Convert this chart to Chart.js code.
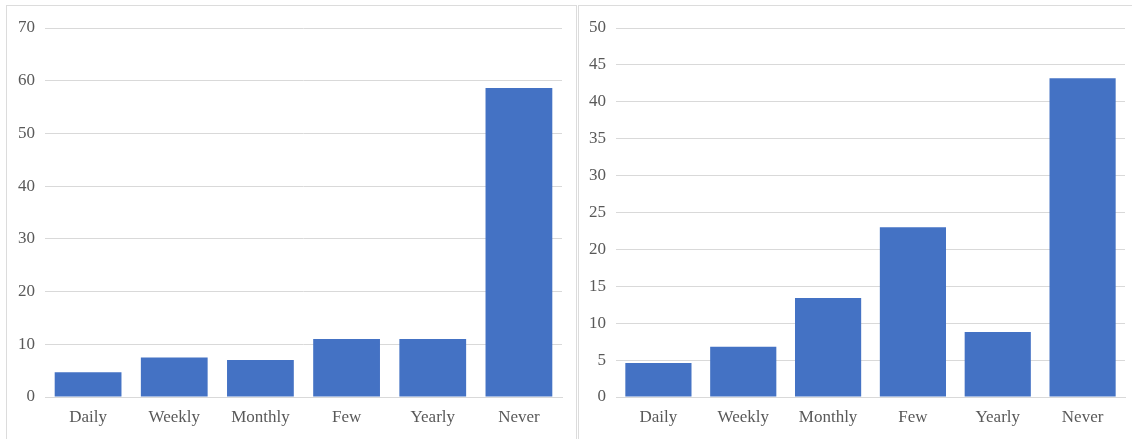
<!DOCTYPE html>
<html>
<head>
<meta charset="utf-8">
<script src="https://cdn.jsdelivr.net/npm/chart.js@4/dist/chart.umd.min.js"></script>
<style>
    body { margin: 0; background: #fff; width: 1132px; height: 439px; position: relative; overflow: hidden; }
    .panel { position: absolute; top: 5px; border: 1px solid #dcdcdc; border-bottom: none; background: #fff; }
    #left-panel { left: 6px; width: 569px; height: 434px; }
    #right-panel { left: 578px; width: 553px; height: 434px; border-right: none; }
</style>
</head>
<body>
<div class="panel" id="left-panel"><canvas id="left-chart" width="569" height="433"></canvas></div>
<div class="panel" id="right-panel"><canvas id="right-chart" width="553" height="433"></canvas></div>
<script>
const categories = ['Daily', 'Weekly', 'Monthly', 'Few', 'Yearly', 'Never'];
const leftValues = [4.7, 7.5, 7.0, 11.0, 11.0, 58.6];
const rightValues = [4.6, 6.8, 13.4, 23.0, 8.8, 43.2];

const barColor = '#4472c4';
const gridColor = '#d9d9d9';
const labelColor = '#595959';
const font = { family: '"Liberation Serif", "DejaVu Serif", serif', size: 17 };

function buildChart(id, values, yMax, yStep, yWidth, padRight, barPct) {
    const ctx = document.getElementById(id);
    return new Chart(ctx, {
        type: 'bar',
        data: {
            labels: categories,
            datasets: [{
                data: values,
                backgroundColor: barColor,
                borderWidth: 0,
                categoryPercentage: 1,
                barPercentage: barPct
            }]
        },
        options: {
            responsive: false,
            animation: false,
            layout: { padding: { top: 22, right: padRight, bottom: 0, left: 0 } },
            plugins: {
                legend: { display: false },
                tooltip: { enabled: false }
            },
            scales: {
                x: {
                    grid: { display: false, drawTicks: false },
                    border: { color: gridColor },
                    ticks: { color: labelColor, font: font, padding: 10 },
                    afterFit: s => { s.height = 42; }
                },
                y: {
                    min: 0,
                    max: yMax,
                    grid: { color: gridColor, drawTicks: false },
                    border: { display: false },
                    ticks: { stepSize: yStep, color: labelColor, font: font, padding: 10 },
                    afterFit: s => { s.width = yWidth; }
                }
            }
        }
    });
}

buildChart('left-chart', leftValues, 70, 10, 38, 14, 0.775);
buildChart('right-chart', rightValues, 50, 5, 37, 7, 0.78);
</script>
</body>
</html>
